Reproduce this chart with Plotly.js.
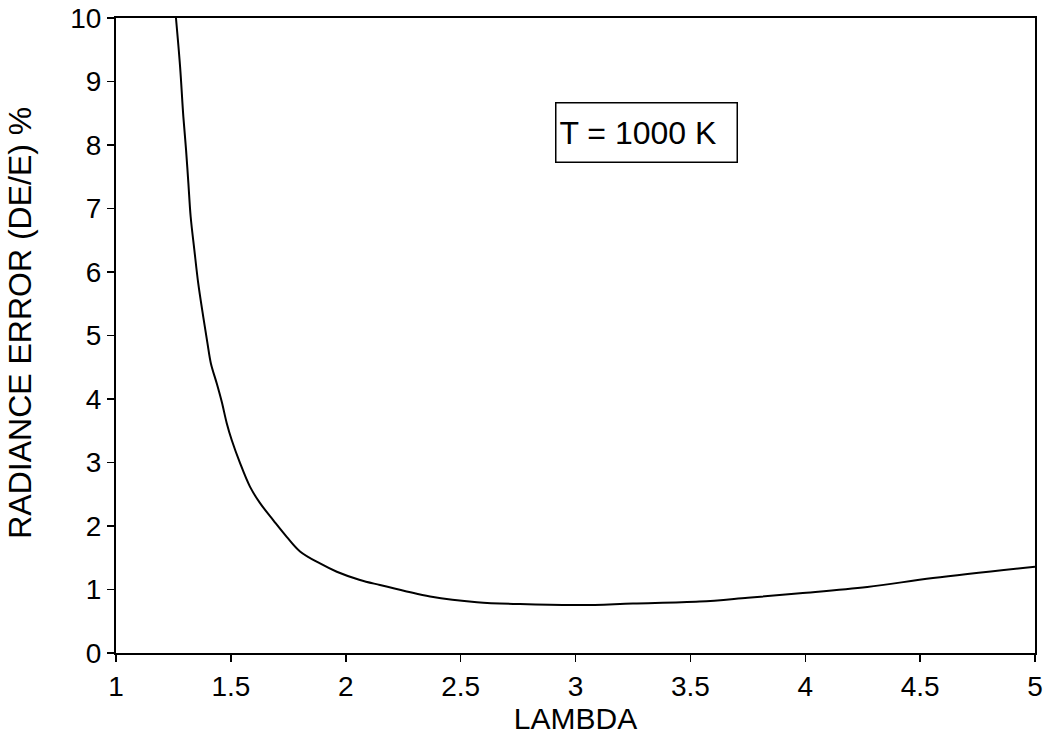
<!DOCTYPE html>
<html>
<head>
<meta charset="utf-8">
<script src="https://cdn.plot.ly/plotly-3.0.1.min.js"></script>
<style>html,body{margin:0;padding:0;background:#fff;}#chart{width:1050px;height:745px;}</style>
</head>
<body>
<div id="chart"></div>
<script>
var lambda = [1.261, 1.279, 1.293, 1.305, 1.315, 1.325, 1.341, 1.358, 1.380, 1.398, 1.413, 1.439, 1.460, 1.482, 1.504, 1.540, 1.583, 1.627, 1.685, 1.743, 1.801, 1.888, 1.961, 2.062, 2.149, 2.265, 2.367, 2.571, 2.758, 3.02, 3.25, 3.54, 3.75, 3.977, 4.27, 4.556, 5.0];
var radianceError = [10, 9.23, 8.45, 7.92, 7.40, 6.87, 6.35, 5.82, 5.29, 4.88, 4.56, 4.24, 3.96, 3.62, 3.35, 2.99, 2.62, 2.36, 2.09, 1.83, 1.60, 1.41, 1.28, 1.15, 1.07, 0.97, 0.89, 0.80, 0.77, 0.755, 0.78, 0.81, 0.87, 0.94, 1.04, 1.18, 1.36];
var xTicks = [1, 1.5, 2, 2.5, 3, 3.5, 4, 4.5, 5];
var yTicks = [0, 1, 2, 3, 4, 5, 6, 7, 8, 9, 10];
var boxLabel = "T = 1000 K";
var xLabel = "LAMBDA";
var yLabel = "RADIANCE ERROR (DE/E) %";

var font = "Liberation Sans, Arial, sans-serif";

var trace = {
  x: lambda,
  y: radianceError,
  mode: "lines",
  line: {color: "#000", width: 2, shape: "spline", smoothing: 1},
  hoverinfo: "skip",
  cliponaxis: true
};

var layout = {
  width: 1050,
  height: 745,
  margin: {l: 116, r: 15, t: 18, b: 92},
  paper_bgcolor: "#fff",
  plot_bgcolor: "#fff",
  showlegend: false,
  font: {family: font, color: "#000"},
  xaxis: {
    range: [1, 5],
    tickvals: xTicks,
    ticktext: xTicks.map(String),
    ticks: "outside",
    ticklen: 7,
    tickwidth: 1.5,
    tickcolor: "#000",
    showline: true,
    linecolor: "#000",
    linewidth: 2,
    mirror: true,
    showgrid: false,
    zeroline: false,
    tickfont: {family: font, size: 28, color: "#000"},
    title: {text: xLabel, font: {family: font, size: 30, color: "#000"}, standoff: 6}
  },
  yaxis: {
    range: [0, 10],
    tickvals: yTicks,
    ticktext: yTicks.map(String),
    ticks: "outside",
    ticklen: 7,
    tickwidth: 1.5,
    tickcolor: "#000",
    showline: true,
    linecolor: "#000",
    linewidth: 2,
    mirror: true,
    showgrid: false,
    zeroline: false,
    tickfont: {family: font, size: 28, color: "#000"},
    title: {text: ""}
  },
  annotations: [{
    xref: "paper", yref: "paper",
    x: 0.577, y: 0.820,
    xanchor: "center", yanchor: "middle",
    text: boxLabel,
    showarrow: false,
    font: {family: font, size: 32, color: "#000"},
    align: "left",
    width: 174,
    height: 52,
    bordercolor: "#000",
    borderwidth: 1.5,
    borderpad: 3,
    bgcolor: "#fff"
  }, {
    xref: "paper", yref: "paper",
    x: -0.1045, y: 0.520,
    xanchor: "center", yanchor: "middle",
    text: yLabel,
    textangle: -90,
    showarrow: false,
    font: {family: font, size: 32, color: "#000"}
  }]
};

Plotly.newPlot("chart", [trace], layout, {staticPlot: true, displayModeBar: false});
</script>
</body>
</html>
